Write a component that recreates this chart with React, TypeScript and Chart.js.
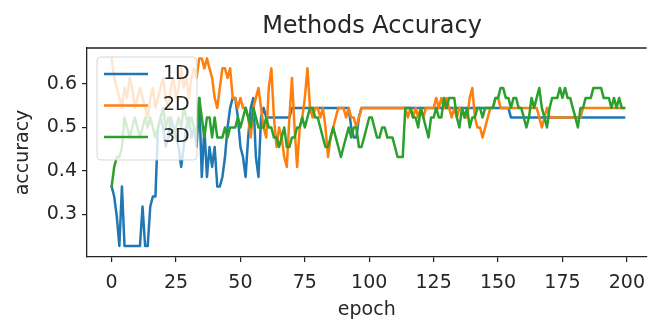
import { useEffect, useRef } from "react";
import { Chart, registerables } from "chart.js";

Chart.register(...registerables);

const epochs = Array.from({ length: 200 }, (_, i) => i);

const acc1D = [
  0.364, 0.341, 0.295, 0.227, 0.364, 0.227, 0.227, 0.227, 0.227, 0.227,
  0.227, 0.227, 0.318, 0.227, 0.227, 0.318, 0.341, 0.341, 0.5, 0.523,
  0.5, 0.455, 0.477, 0.523, 0.5, 0.477, 0.455, 0.409, 0.455, 0.5,
  0.523, 0.477, 0.5, 0.455, 0.568, 0.386, 0.5, 0.386, 0.455, 0.409,
  0.455, 0.364, 0.364, 0.386, 0.432, 0.5, 0.545, 0.568, 0.568, 0.523,
  0.455, 0.432, 0.386, 0.477, 0.545, 0.568, 0.432, 0.386, 0.523, 0.545,
  0.523, 0.523, 0.523, 0.523, 0.523, 0.523, 0.523, 0.523, 0.523, 0.523,
  0.545, 0.545, 0.545, 0.545, 0.545, 0.545, 0.545, 0.545, 0.545, 0.545,
  0.545, 0.545, 0.545, 0.545, 0.545, 0.545, 0.545, 0.545, 0.545, 0.545,
  0.545, 0.545, 0.545, 0.5, 0.477, 0.477, 0.523, 0.545, 0.545, 0.545,
  0.545, 0.545, 0.545, 0.545, 0.545, 0.545, 0.545, 0.545, 0.545, 0.545,
  0.545, 0.545, 0.545, 0.545, 0.545, 0.545, 0.545, 0.545, 0.545, 0.545,
  0.545, 0.545, 0.545, 0.545, 0.545, 0.545, 0.545, 0.545, 0.545, 0.545,
  0.545, 0.545, 0.545, 0.545, 0.545, 0.545, 0.545, 0.545, 0.545, 0.545,
  0.545, 0.545, 0.545, 0.545, 0.545, 0.545, 0.545, 0.545, 0.545, 0.545,
  0.545, 0.545, 0.545, 0.545, 0.545, 0.523, 0.523, 0.523, 0.523, 0.523,
  0.523, 0.523, 0.523, 0.523, 0.523, 0.523, 0.523, 0.523, 0.523, 0.523,
  0.523, 0.523, 0.523, 0.523, 0.523, 0.523, 0.523, 0.523, 0.523, 0.523,
  0.523, 0.523, 0.523, 0.523, 0.523, 0.523, 0.523, 0.523, 0.523, 0.523,
  0.523, 0.523, 0.523, 0.523, 0.523, 0.523, 0.523, 0.523, 0.523, 0.523,
];

const acc2D = [
  0.659, 0.614, 0.591, 0.568, 0.545, 0.591, 0.568, 0.614, 0.591, 0.545,
  0.568, 0.591, 0.568, 0.545, 0.523, 0.568, 0.591, 0.545, 0.568, 0.591,
  0.614, 0.568, 0.545, 0.591, 0.614, 0.568, 0.591, 0.636, 0.591, 0.614,
  0.568, 0.614, 0.636, 0.614, 0.659, 0.659, 0.636, 0.659, 0.636, 0.614,
  0.568, 0.545, 0.591, 0.636, 0.636, 0.614, 0.636, 0.568, 0.568, 0.545,
  0.568, 0.545, 0.545, 0.523, 0.477, 0.545, 0.568, 0.591, 0.545, 0.5,
  0.477, 0.591, 0.636, 0.523, 0.455, 0.5, 0.477, 0.432, 0.409, 0.523,
  0.614, 0.5, 0.409, 0.5, 0.523, 0.568, 0.636, 0.545, 0.523, 0.545,
  0.545, 0.523, 0.545, 0.5, 0.432, 0.477, 0.5, 0.523, 0.545, 0.545,
  0.545, 0.523, 0.545, 0.523, 0.523, 0.5, 0.523, 0.545, 0.545, 0.545,
  0.545, 0.545, 0.545, 0.545, 0.545, 0.545, 0.545, 0.545, 0.545, 0.545,
  0.545, 0.545, 0.545, 0.545, 0.545, 0.523, 0.545, 0.523, 0.545, 0.523,
  0.545, 0.523, 0.545, 0.545, 0.545, 0.545, 0.568, 0.545, 0.568, 0.545,
  0.568, 0.545, 0.523, 0.545, 0.523, 0.545, 0.545, 0.523, 0.523, 0.568,
  0.591, 0.523, 0.5, 0.5, 0.477, 0.5, 0.523, 0.545, 0.545, 0.568,
  0.568, 0.545, 0.545, 0.545, 0.545, 0.545, 0.545, 0.545, 0.545, 0.545,
  0.545, 0.545, 0.545, 0.545, 0.545, 0.545, 0.523, 0.5, 0.523, 0.545,
  0.523, 0.523, 0.523, 0.523, 0.523, 0.523, 0.523, 0.523, 0.523, 0.523,
  0.523, 0.523, 0.523, 0.545, 0.545, 0.545, 0.545, 0.545, 0.545, 0.545,
  0.545, 0.545, 0.545, 0.545, 0.545, 0.545, 0.545, 0.545, 0.545, 0.545,
];

const acc3D = [
  0.364, 0.409, 0.432, 0.432, 0.455, 0.523, 0.5, 0.477, 0.5, 0.523,
  0.5, 0.477, 0.5, 0.523, 0.5, 0.523, 0.5, 0.477, 0.5, 0.523,
  0.545, 0.5, 0.523, 0.5, 0.477, 0.5, 0.523, 0.5, 0.545, 0.523,
  0.5, 0.523, 0.5, 0.477, 0.568, 0.523, 0.477, 0.523, 0.523, 0.477,
  0.523, 0.477, 0.477, 0.477, 0.5, 0.477, 0.5, 0.5, 0.5, 0.523,
  0.5, 0.523, 0.545, 0.523, 0.5, 0.545, 0.523, 0.5, 0.5, 0.5,
  0.523, 0.5, 0.5, 0.477, 0.477, 0.455, 0.477, 0.5, 0.455, 0.455,
  0.477, 0.477, 0.5, 0.5, 0.523, 0.5, 0.523, 0.545, 0.545, 0.523,
  0.523, 0.5, 0.477, 0.455, 0.455, 0.477, 0.5, 0.477, 0.455, 0.432,
  0.455, 0.477, 0.5, 0.477, 0.5, 0.5, 0.455, 0.455, 0.477, 0.5,
  0.523, 0.523, 0.5, 0.477, 0.477, 0.5, 0.5, 0.477, 0.477, 0.477,
  0.455, 0.432, 0.432, 0.432, 0.545, 0.545, 0.545, 0.523, 0.523, 0.5,
  0.545, 0.523, 0.5, 0.477, 0.523, 0.523, 0.545, 0.523, 0.523, 0.568,
  0.545, 0.568, 0.568, 0.568, 0.523, 0.5, 0.545, 0.523, 0.545, 0.5,
  0.523, 0.523, 0.545, 0.545, 0.523, 0.545, 0.545, 0.545, 0.545, 0.568,
  0.568, 0.591, 0.591, 0.568, 0.568, 0.545, 0.568, 0.568, 0.545, 0.545,
  0.523, 0.5, 0.523, 0.568, 0.545, 0.568, 0.591, 0.545, 0.523, 0.5,
  0.545, 0.568, 0.568, 0.568, 0.591, 0.568, 0.591, 0.568, 0.568, 0.545,
  0.523, 0.5, 0.545, 0.545, 0.568, 0.568, 0.568, 0.591, 0.591, 0.591,
  0.591, 0.568, 0.568, 0.568, 0.545, 0.568, 0.545, 0.568, 0.545, 0.545,
];

const seriesNames = ["1D", "2D", "3D"];
const seriesColors = ["#1f77b4", "#ff7f0e", "#2ca02c"];
const xTicks = [0, 25, 50, 75, 100, 125, 150, 175, 200];
const yTicks = [0.3, 0.4, 0.5, 0.6];
const titleText = "Methods Accuracy";
const xLabel = "epoch";
const yLabel = "accuracy";

const FONT = "'DejaVu Sans', sans-serif";
const TEXT = "#262626";

const decorPlugin = {
  id: "decor",
  afterDatasetsDraw(chart: any) {
    const { ctx, chartArea: a } = chart;
    ctx.save();
    // top spine
    ctx.strokeStyle = "#222";
    ctx.lineWidth = 1.3;
    ctx.beginPath();
    ctx.moveTo(a.left, a.top);
    ctx.lineTo(a.right, a.top);
    ctx.stroke();

    // legend box
    const lx = a.left + 10;
    const ly = a.top + 9;
    const lw = 100;
    const lh = 103;
    const r = 4;
    ctx.beginPath();
    ctx.moveTo(lx + r, ly);
    ctx.lineTo(lx + lw - r, ly);
    ctx.quadraticCurveTo(lx + lw, ly, lx + lw, ly + r);
    ctx.lineTo(lx + lw, ly + lh - r);
    ctx.quadraticCurveTo(lx + lw, ly + lh, lx + lw - r, ly + lh);
    ctx.lineTo(lx + r, ly + lh);
    ctx.quadraticCurveTo(lx, ly + lh, lx, ly + lh - r);
    ctx.lineTo(lx, ly + r);
    ctx.quadraticCurveTo(lx, ly, lx + r, ly);
    ctx.closePath();
    ctx.fillStyle = "rgba(255,255,255,0.8)";
    ctx.fill();
    ctx.strokeStyle = "rgba(204,204,204,0.8)";
    ctx.lineWidth = 1;
    ctx.stroke();

    seriesNames.forEach((name, i) => {
      const y = ly + 17 + i * 31.5;
      ctx.strokeStyle = seriesColors[i];
      ctx.lineWidth = 2.5;
      ctx.beginPath();
      ctx.moveTo(lx + 7, y);
      ctx.lineTo(lx + 51, y);
      ctx.stroke();
      ctx.fillStyle = TEXT;
      ctx.font = `19px ${FONT}`;
      ctx.textAlign = "left";
      ctx.textBaseline = "middle";
      ctx.fillText(name, lx + 66, y);
    });

    // title
    ctx.fillStyle = TEXT;
    ctx.font = `24px ${FONT}`;
    ctx.textAlign = "center";
    ctx.textBaseline = "alphabetic";
    ctx.fillText(titleText, 372, 33);
    ctx.restore();
  },
};

export default function App() {
  const ref = useRef<HTMLCanvasElement>(null);

  useEffect(() => {
    const datasets = [acc1D, acc2D, acc3D].map((vals, i) => ({
      label: seriesNames[i],
      data: epochs.map((e, j) => ({ x: e, y: vals[j] })),
      borderColor: seriesColors[i],
      backgroundColor: seriesColors[i],
      borderWidth: 2.5,
      pointRadius: 0,
      tension: 0,
      fill: false,
      order: 2 - i,
    }));

    const chart = new Chart(ref.current as HTMLCanvasElement, {
      type: "line",
      data: { datasets },
      options: {
        animation: false,
        responsive: false,
        devicePixelRatio: 1,
        layout: { padding: { top: 48, left: 0, right: 0, bottom: 0 } },
        plugins: {
          legend: { display: false },
          title: { display: false },
          tooltip: { enabled: false },
        },
        elements: {
          line: { borderJoinStyle: "round", borderCapStyle: "round" },
          point: { radius: 0 },
        },
        scales: {
          x: {
            type: "linear",
            min: -9.56,
            max: 207.65,
            afterFit: (s: any) => {
              s.height = 63;
            },
            afterBuildTicks: (s: any) => {
              s.ticks = xTicks.map((v) => ({ value: v }));
            },
            grid: {
              display: true,
              drawOnChartArea: false,
              drawTicks: true,
              tickLength: 5,
              color: "#222",
              lineWidth: 1.2,
            },
            border: { display: true, color: "#222", width: 1.3 },
            ticks: {
              font: { family: FONT, size: 19 },
              color: TEXT,
              padding: 10,
              maxRotation: 0,
              autoSkip: false,
              callback: (v: any) => String(v),
            },
            title: {
              display: true,
              text: xLabel,
              font: { family: FONT, size: 19, lineHeight: 1.0 },
              color: TEXT,
              padding: { top: 0, bottom: 0 },
            },
          },
          y: {
            type: "linear",
            min: 0.2017,
            max: 0.6829,
            afterFit: (s: any) => {
              s.width = 87;
            },
            afterBuildTicks: (s: any) => {
              s.ticks = yTicks.map((v) => ({ value: v }));
            },
            grid: {
              display: true,
              drawOnChartArea: false,
              drawTicks: true,
              tickLength: 5,
              color: "#222",
              lineWidth: 1.2,
            },
            border: { display: true, color: "#222", width: 1.3 },
            ticks: {
              font: { family: FONT, size: 19 },
              color: TEXT,
              padding: 5,
              autoSkip: false,
              callback: (v: any) => Number(v).toFixed(1),
            },
            title: {
              display: true,
              text: yLabel,
              font: { family: FONT, size: 19 },
              color: TEXT,
              padding: { top: 12, bottom: 0 },
            },
          },
        },
      },
      plugins: [decorPlugin],
    });
    return () => chart.destroy();
  }, []);

  return (
    <div
      style={{
        position: "fixed",
        left: 0,
        top: 0,
        width: 655,
        height: 320,
        background: "#fff",
      }}
    >
      <canvas
        ref={ref}
        width={655}
        height={320}
        style={{ display: "block", width: 655, height: 320 }}
      />
    </div>
  );
}
